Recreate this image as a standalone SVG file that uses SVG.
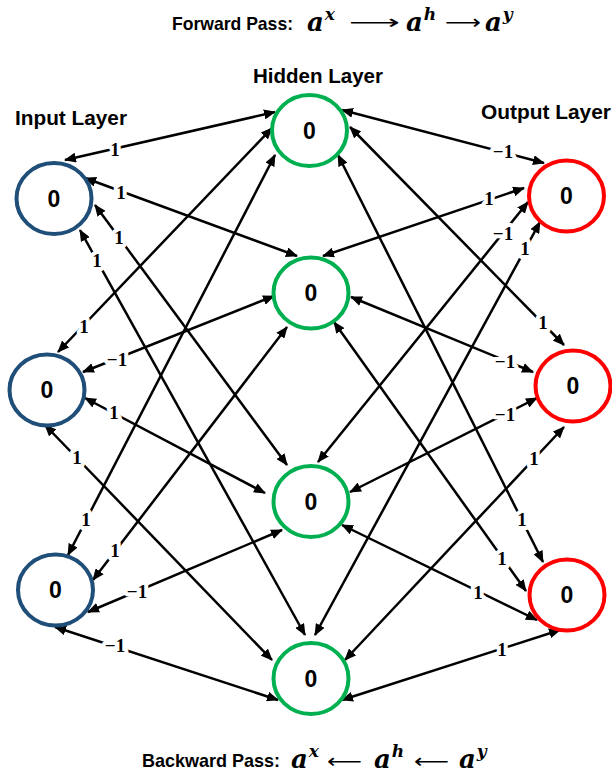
<svg xmlns="http://www.w3.org/2000/svg" width="612" height="777" viewBox="0 0 612 777">
<defs>
<marker id="ah" markerUnits="userSpaceOnUse" markerWidth="12" markerHeight="10" viewBox="0 0 12 10" refX="11" refY="5" orient="auto-start-reverse">
<path d="M0,0 L12,5 L0,10 z" fill="#000"/>
</marker>
<style>
.edge{stroke:#000;stroke-width:2.5;fill:none;marker-start:url(#ah);marker-end:url(#ah)}
.lbl{font-family:"Liberation Serif",serif;font-weight:bold;font-size:19px;text-anchor:middle;fill:#000;stroke:#fff;stroke-width:8;stroke-linejoin:round;paint-order:stroke}
.ring{fill:#fff;stroke-width:4}
.in{stroke:#1F4E79}
.hid{stroke:#00B050}
.out{stroke:#FF0000}
.val{font-family:"Liberation Sans",Arial,sans-serif;font-weight:bold;font-size:23px;text-anchor:middle;fill:#000}
.hdr{font-family:"Liberation Sans",Arial,sans-serif;font-weight:bold;font-size:21px;fill:#000}
.ttl{font-family:"Liberation Sans",Arial,sans-serif;font-weight:bold;font-size:19px;fill:#000}
.math{font-family:"DejaVu Serif",serif;font-weight:bold;font-style:italic;font-size:26px;fill:#000}
.sup{font-size:17px}
.arr{font-family:"DejaVu Sans",sans-serif;font-size:20px;fill:#000}
</style>
</defs>
<rect width="612" height="777" fill="#fff"/>

<g id="titles">
<text class="ttl" x="172" y="30" textLength="121" lengthAdjust="spacingAndGlyphs">Forward Pass:</text>
<text class="math" x="307" y="31">a<tspan class="sup" dx="1" dy="-11">x</tspan></text>
<text class="arr" x="349" y="29" textLength="51" lengthAdjust="spacingAndGlyphs">⟶</text>
<text class="math" x="406" y="31">a<tspan class="sup" dx="1" dy="-11">h</tspan></text>
<text class="arr" x="445" y="29" textLength="36" lengthAdjust="spacingAndGlyphs">⟶</text>
<text class="math" x="485" y="31">a<tspan class="sup" dx="1" dy="-11">y</tspan></text>

<text class="ttl" x="142" y="767" textLength="138" lengthAdjust="spacingAndGlyphs">Backward Pass:</text>
<text class="math" x="291" y="768">a<tspan class="sup" dx="1" dy="-11">x</tspan></text>
<text class="arr" x="327" y="768" textLength="35" lengthAdjust="spacingAndGlyphs">⟵</text>
<text class="math" x="374" y="768">a<tspan class="sup" dx="1" dy="-11">h</tspan></text>
<text class="arr" x="414" y="768" textLength="35" lengthAdjust="spacingAndGlyphs">⟵</text>
<text class="math" x="459" y="768">a<tspan class="sup" dx="1" dy="-11">y</tspan></text>

<text class="hdr" x="15" y="125" textLength="112" lengthAdjust="spacingAndGlyphs">Input Layer</text>
<text class="hdr" x="253" y="83" textLength="130" lengthAdjust="spacingAndGlyphs">Hidden Layer</text>
<text class="hdr" x="481" y="119" textLength="130" lengthAdjust="spacingAndGlyphs">Output Layer</text>
</g>

<g id="connectors">
<path class="edge" d="M65,160 L275,112"/>
<path class="edge" d="M85,178 L297,256"/>
<path class="edge" d="M95,205 L287,465"/>
<path class="edge" d="M80,230 L305,635"/>
<path class="edge" d="M58,352 L272,128"/>
<path class="edge" d="M83,372 L274,296"/>
<path class="edge" d="M85,398 L265,493"/>
<path class="edge" d="M45,425 L272,660"/>
<path class="edge" d="M68,555 L275,155"/>
<path class="edge" d="M93,580 L287,327"/>
<path class="edge" d="M88,612 L282,530"/>
<path class="edge" d="M55,627 L278,700"/>
<path class="edge" d="M342,110 L544,163"/>
<path class="edge" d="M323,256 L524,188"/>
<path class="edge" d="M318,462 L528,202"/>
<path class="edge" d="M315,635 L540,222"/>
<path class="edge" d="M350,127 L564,345"/>
<path class="edge" d="M351,297 L533,372"/>
<path class="edge" d="M350,492 L537,398"/>
<path class="edge" d="M345,660 L564,427"/>
<path class="edge" d="M338,155 L543,562"/>
<path class="edge" d="M334,322 L526,591"/>
<path class="edge" d="M342,525 L537,620"/>
<path class="edge" d="M342,700 L560,630"/>

<text class="lbl" x="115" y="156">1</text>
<text class="lbl" x="121" y="199">1</text>
<text class="lbl" x="119" y="244">1</text>
<text class="lbl" x="97" y="267">1</text>
<text class="lbl" x="84" y="333">1</text>
<text class="lbl" x="117" y="366">−1</text>
<text class="lbl" x="114" y="419">1</text>
<text class="lbl" x="77" y="464">1</text>
<text class="lbl" x="86" y="526">1</text>
<text class="lbl" x="115" y="557">1</text>
<text class="lbl" x="137" y="598">−1</text>
<text class="lbl" x="115" y="652">−1</text>
<text class="lbl" x="503" y="158">−1</text>
<text class="lbl" x="489" y="205">1</text>
<text class="lbl" x="503" y="240">−1</text>
<text class="lbl" x="525" y="255">1</text>
<text class="lbl" x="543" y="329">1</text>
<text class="lbl" x="505" y="368">−1</text>
<text class="lbl" x="505" y="421">−1</text>
<text class="lbl" x="534" y="465">1</text>
<text class="lbl" x="522" y="526">1</text>
<text class="lbl" x="502" y="565">1</text>
<text class="lbl" x="478" y="599">1</text>
<text class="lbl" x="502" y="656">1</text>
</g>

<g id="I1"><ellipse class="ring in" cx="54" cy="198.5" rx="37.5" ry="35.5"/><text class="val" x="54" y="206.5">0</text></g>
<g id="I2"><ellipse class="ring in" cx="47" cy="390" rx="37.5" ry="35.5"/><text class="val" x="47" y="398">0</text></g>
<g id="I3"><ellipse class="ring in" cx="55.5" cy="590" rx="37.5" ry="35.5"/><text class="val" x="55.5" y="598">0</text></g>
<g id="H1"><ellipse class="ring hid" cx="309.5" cy="130.5" rx="37.5" ry="35.5"/><text class="val" x="309.5" y="138.5">0</text></g>
<g id="H2"><ellipse class="ring hid" cx="311" cy="293" rx="37.5" ry="35.5"/><text class="val" x="311" y="301">0</text></g>
<g id="H3"><ellipse class="ring hid" cx="311" cy="501.5" rx="37.5" ry="35.5"/><text class="val" x="311" y="509.5">0</text></g>
<g id="H4"><ellipse class="ring hid" cx="311" cy="678.5" rx="37.5" ry="35.5"/><text class="val" x="311" y="686.5">0</text></g>
<g id="O1"><ellipse class="ring out" cx="566.5" cy="196" rx="37.5" ry="35.5"/><text class="val" x="566.5" y="204">0</text></g>
<g id="O2"><ellipse class="ring out" cx="573" cy="386" rx="37.5" ry="35.5"/><text class="val" x="573" y="394">0</text></g>
<g id="O3"><ellipse class="ring out" cx="567" cy="595" rx="37.5" ry="35.5"/><text class="val" x="567" y="603">0</text></g>
</svg>
